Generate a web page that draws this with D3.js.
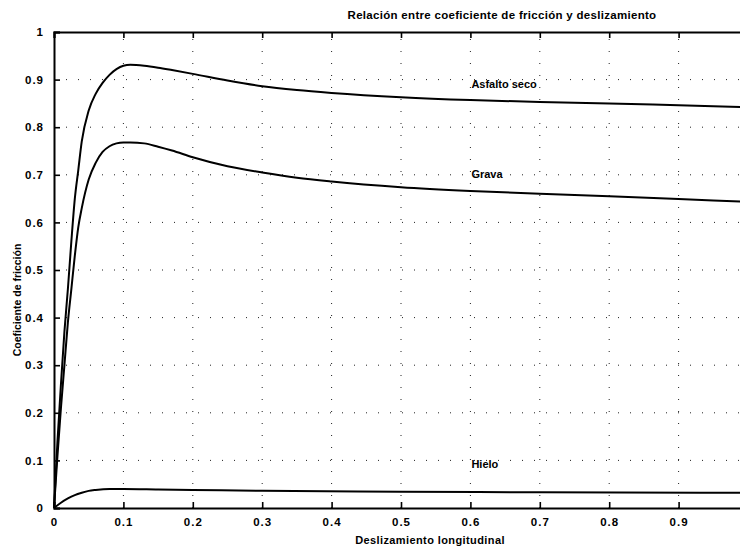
<!DOCTYPE html>
<html><head><meta charset="utf-8">
<script src="https://cdn.jsdelivr.net/npm/d3@7"></script>
<style>body{margin:0;background:#fff}svg{display:block}</style>
</head><body>
<svg id="c" width="740" height="548"></svg>
<script>
const title = "Relación entre coeficiente de fricción y deslizamiento";
const xLabel = "Deslizamiento longitudinal";
const yLabel = "Coeficiente de fricción";
const xTicks = [0,0.1,0.2,0.3,0.4,0.5,0.6,0.7,0.8,0.9];
const yTicks = [0,0.1,0.2,0.3,0.4,0.5,0.6,0.7,0.8,0.9,1];
const seriesNames = ["Asfalto seco","Grava","Hielo"];
const labelPos = [[0.6,0.9],[0.6,0.7],[0.6,0.1]];

const asfaltoX = [0,0.005,0.01,0.015,0.02,0.025,0.03,0.035,0.04,0.05,0.06,0.07,0.08,0.09,0.1,0.11,0.13,0.15,0.17,0.2,0.25,0.3,0.35,0.4,0.5,0.6,0.7,0.8,0.9,1.0];
const asfaltoY = [0,0.14,0.26,0.37,0.46,0.56,0.65,0.71,0.77,0.835,0.87,0.893,0.91,0.922,0.929,0.931,0.929,0.925,0.92,0.912,0.898,0.886,0.878,0.872,0.863,0.857,0.853,0.85,0.846,0.842];
const gravaX = [0,0.005,0.01,0.015,0.02,0.025,0.03,0.035,0.04,0.05,0.06,0.07,0.08,0.09,0.1,0.11,0.13,0.15,0.17,0.2,0.25,0.3,0.35,0.4,0.5,0.6,0.7,0.8,0.9,1.0];
const gravaY = [0,0.11,0.21,0.3,0.39,0.46,0.53,0.59,0.63,0.69,0.725,0.748,0.76,0.766,0.768,0.768,0.766,0.759,0.751,0.737,0.718,0.705,0.694,0.686,0.674,0.666,0.66,0.655,0.649,0.643];
const hieloX = [0,0.01,0.02,0.03,0.04,0.05,0.06,0.08,0.1,0.15,0.2,0.3,0.5,0.7,1.0];
const hieloY = [0,0.011,0.02,0.027,0.032,0.036,0.038,0.04,0.04,0.039,0.038,0.036,0.034,0.033,0.032];

const svg = d3.select("#c");
const x = d3.scaleLinear().domain([0,1]).range([54,748]);
const y = d3.scaleLinear().domain([0,1]).range([508,32]);
const font = "'Liberation Sans', Arial, sans-serif";

// grid
const g = svg.append("g");
g.selectAll("line.gx").data(xTicks.slice(1)).join("line")
  .attr("x1",d=>x(d)).attr("x2",d=>x(d)).attr("y1",y(0)).attr("y2",y(1))
  .attr("stroke","#222").attr("stroke-width",1).attr("stroke-dasharray","1,11");
g.selectAll("line.gy").data(yTicks.slice(1,-1)).join("line")
  .attr("x1",x(0)).attr("x2",x(1)).attr("y1",d=>y(d)).attr("y2",d=>y(d))
  .attr("stroke","#222").attr("stroke-width",1).attr("stroke-dasharray","1,11");

// axes
const axB = d3.axisBottom(x).tickValues(xTicks).tickSize(-6).tickPadding(10).tickFormat(d=>d===0?"0":d3.format(".1f")(d));
const axT = d3.axisTop(x).tickValues(xTicks).tickSize(-6).tickFormat("");
const axL = d3.axisLeft(y).tickValues(yTicks).tickSize(-6).tickPadding(10).tickFormat(d=>(d===0||d===1)?String(d):d3.format(".1f")(d));
function style(sel){
  sel.select(".domain").attr("stroke","#000").attr("stroke-width",2);
  sel.selectAll(".tick line").attr("stroke","#000").attr("stroke-width",1.6);
  sel.selectAll("text").attr("font-family",font).attr("font-size",11.5).attr("font-weight","bold").attr("letter-spacing","1px").attr("fill","#000");
}
svg.append("g").attr("transform",`translate(0,${y(0)})`).call(axB).call(style);
svg.append("g").attr("transform",`translate(0,${y(1)})`).call(axT).call(style);
svg.append("g").attr("transform",`translate(${x(0)},0)`).call(axL).call(style);

// curves
const line = d3.line().x(d=>x(d[0])).y(d=>y(d[1])).curve(d3.curveMonotoneX);
const data = [d3.zip(asfaltoX,asfaltoY), d3.zip(gravaX,gravaY), d3.zip(hieloX,hieloY)];
svg.append("g").selectAll("path").data(data).join("path")
  .attr("d",line).attr("fill","none").attr("stroke","#000").attr("stroke-width",2);

// labels
svg.append("g").selectAll("text").data(seriesNames).join("text")
  .attr("x",(d,i)=>x(labelPos[i][0])+1).attr("y",(d,i)=>y(labelPos[i][1])+(i===0?8:i===1?3:8))
  .attr("font-family",font).attr("font-size",11).attr("font-weight","bold").attr("fill","#000")
  .text(d=>d);

svg.append("text").attr("x",502).attr("y",19).attr("text-anchor","middle")
  .attr("font-family",font).attr("font-size",11.5).attr("font-weight","bold").attr("letter-spacing","0.3px").text(title);
svg.append("text").attr("x",430).attr("y",544).attr("text-anchor","middle")
  .attr("font-family",font).attr("font-size",11).attr("font-weight","bold").attr("letter-spacing","0.4px").text(xLabel);
svg.append("text").attr("transform","translate(21,300) rotate(-90)").attr("text-anchor","middle")
  .attr("font-family",font).attr("font-size",10.5).attr("font-weight","bold").text(yLabel);
</script>
</body></html>
